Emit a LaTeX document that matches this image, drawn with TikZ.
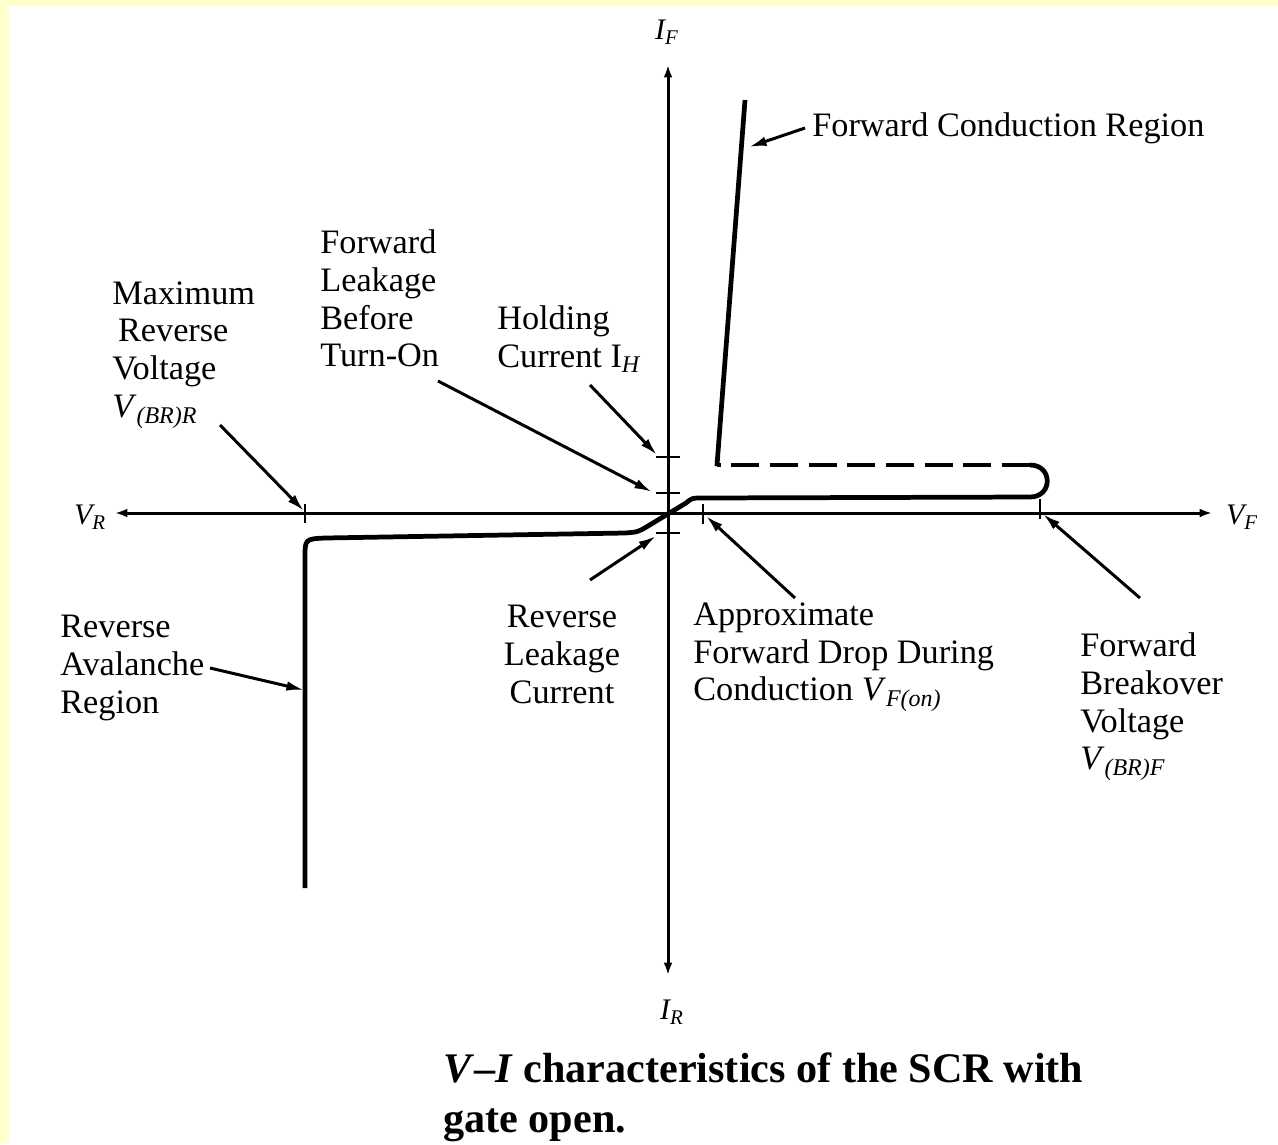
\documentclass[tikz,border=0pt]{standalone}
\usepackage{fontspec}
\setmainfont{Liberation Serif}
\usetikzlibrary{arrows.meta}
\definecolor{frameyellow}{HTML}{FFFFCC}
\tikzset{
  lbl/.style={inner sep=0pt, align=left, font=\fontsize{19.5}{21.6}\selectfont},
  axlbl/.style={inner sep=0pt, font=\fontsize{17}{20}\selectfont\itshape},
  axis/.style={line width=1.7pt, -{Latex[length=7pt,width=5pt]}},
  curve/.style={line width=2.7pt, line join=round},
  pointer/.style={line width=1.7pt, -{Latex[length=10pt,width=5.5pt]}},
  tick/.style={line width=1.5pt}
}
\begin{document}
\begin{tikzpicture}[x=0.02cm,y=-0.02cm]
\useasboundingbox (0,0) rectangle (1278,1144);
\fill[frameyellow] (0,0) rectangle (1278,1144);
\fill[white] (9,6) rectangle (1278,1144);

% axes
\coordinate (O) at (668,513);
\coordinate (xl) at (115,513);
\coordinate (xr) at (1212,513);
\coordinate (yt) at (668,65);
\coordinate (yb) at (668,975);
\draw[axis] (O) -- (xr);
\draw[axis] (O) -- (xl);
\draw[axis] (O) -- (yt);
\draw[axis] (O) -- (yb);
\node[axlbl] (IF) at (667,32) {I\textsubscript{\itshape F}};
\node[axlbl] (IR) at (672,1012) {I\textsubscript{\itshape R}};
\node[axlbl] (VR) at (90,517) {V\textsubscript{\itshape R}};
\node[axlbl] (VF) at (1242,517) {V\textsubscript{\itshape F}};

% ticks
\coordinate (tH) at (668,457);
\coordinate (tFL) at (668,493);
\coordinate (tRL) at (668,533);
\foreach \t in {tH,tFL,tRL}{\draw[tick] ([xshift=-12*0.02cm]\t) -- ([xshift=12*0.02cm]\t);}
\draw[tick] (305,504) -- (305,523);
\draw[tick] (703,504) -- (703,524);
\draw[tick] (1040,499) -- (1040,519);

% characteristic
\draw[curve] (305,888) -- (305,558) .. controls (305,539) .. (325,538) -- (625,533)
  .. controls (638,532) .. (648,526) -- (686,503) .. controls (692,498) .. (702,498)
  -- (1030,497) .. controls (1053,497) and (1053,465) .. (1030,465);
\draw[curve, dash pattern=on 16pt off 6pt] (1030,465) -- (717,465);
\draw[curve] (717,466) -- (717,465) -- (745,100);

% labels
\node[lbl, anchor=west] (fcr) at (812,128) {Forward Conduction Region};
\node[lbl, anchor=north west] (mrv) at (112,281) {Maximum\\ \,Reverse\\ Voltage\\ \textit{V}\textsubscript{\itshape (BR)R}};
\node[lbl, anchor=north west] (flb) at (320,229) {Forward\\ Leakage\\ Before\\ Turn-On};
\node[lbl, anchor=north west] (hc) at (497,305) {Holding\\ Current I\textsubscript{\itshape H}};
\node[lbl, anchor=north, align=center] (rlc) at (562,605) {Reverse\\ Leakage\\ Current};
\node[lbl, anchor=north west] (afd) at (693,602) {Approximate\\ Forward Drop During\\ Conduction \textit{V}\textsubscript{\itshape F(on)}};
\node[lbl, anchor=north west] (fbv) at (1080,632) {Forward\\ Breakover\\ Voltage\\ \textit{V}\textsubscript{\itshape (BR)F}};
\node[lbl, anchor=north west] (rar) at (60,615) {Reverse\\ Avalanche\\ Region};

% pointer coordinates
\coordinate (fcrA) at (805,128); \coordinate (fcrB) at (749,147);
\coordinate (mrvA) at (220,425); \coordinate (mrvB) at (304,511);
\coordinate (flbA) at (438,381); \coordinate (flbB) at (652,492);
\coordinate (hcA) at (590,385);  \coordinate (hcB) at (657,455);
\coordinate (rlcA) at (590,580); \coordinate (rlcB) at (656,536);
\coordinate (afdA) at (795,598); \coordinate (afdB) at (706,516);
\coordinate (fbvA) at (1140,598); \coordinate (fbvB) at (1043,514);
\coordinate (rarA) at (210,668); \coordinate (rarB) at (304,690);
\foreach \p in {fcr,mrv,flb,hc,rlc,afd,fbv,rar}{\draw[pointer] (\p A) -- (\p B);}

% caption
\node[inner sep=0pt, anchor=north west, align=left, font=\fontsize{24}{28.5}\selectfont\bfseries] (cap) at (443,1052)
  {\textit{V}--\textit{I} characteristics of the SCR with\\ gate open.};
\end{tikzpicture}
\end{document}
